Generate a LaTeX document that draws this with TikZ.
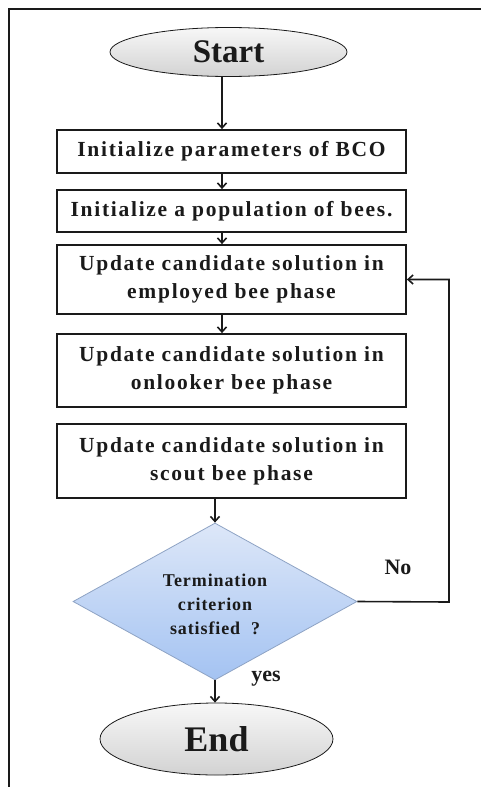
\documentclass[tikz,border=0pt]{standalone}
\usepackage{fontspec}
\setmainfont{Liberation Serif}
\usetikzlibrary{shapes.geometric,arrows.meta}
\definecolor{ink}{HTML}{1A1A1A}
\definecolor{diaedge}{HTML}{8EA3C4}
\definecolor{diatop}{HTML}{DDE7F8}
\definecolor{diabot}{HTML}{A4C3F2}
\tikzset{
  arr/.style={-{Straight Barb[length=5pt,width=9pt]}, line width=1.6pt, draw=ink},
  stepbox/.style={draw=ink, line width=1.8pt, fill=white, rectangle, minimum width=349pt,
    inner sep=0pt, align=center, text=ink,
    font=\fontsize{21.5}{28}\selectfont\bfseries\addfontfeature{LetterSpace=8}},
  term/.style={ellipse, draw=ink, line width=0.8pt, inner sep=0pt, text=ink,
    top color=gray!6, bottom color=gray!35},
  decision/.style={diamond, draw=diaedge, line width=0.8pt, inner sep=0pt,
    top color=diatop, bottom color=diabot},
  dectext/.style={align=center, text=ink, inner sep=0pt,
    font=\fontsize{18}{24}\selectfont\bfseries\addfontfeature{LetterSpace=5}},
  lbl/.style={text=ink, font=\fontsize{22}{24}\selectfont\bfseries}
}
\begin{document}
\begin{tikzpicture}[x=1pt,y=-1pt]
  \useasboundingbox (0,0) rectangle (481,787);
  % page frame (top and left edges)
  \draw[line width=2pt, ink] (8.5,787) -- (8.5,8.5) -- (481,8.5);

  % vertical axis of the upper arrows
  \coordinate (axis) at (222,0);

  \node[term, minimum width=237pt, minimum height=49pt,
        font=\fontsize{33}{35}\selectfont\bfseries] (start) at (228.5,52) {Start};
  \node[stepbox, minimum height=43pt] (b1) at (231.5,151.5) {Initialize parameters of BCO};
  \node[stepbox, minimum height=42pt] (b2) at (231.5,211) {Initialize a population of bees.};
  \node[stepbox, minimum height=69pt] (b3) at (231.5,279.5) {Update candidate solution in\\employed bee phase};
  \node[stepbox, minimum height=73pt] (b4) at (231.5,370.5) {Update candidate solution in\\onlooker bee phase};
  \node[stepbox, minimum height=74pt] (b5) at (231.5,461) {Update candidate solution in\\scout bee phase};
  \node[decision, minimum width=284pt, minimum height=157pt] (dec) at (215,601.5) {};
  \node[dectext] (dectxt) at ([yshift=-3pt]dec.center) {Termination\\criterion\\satisfied~~?};
  \node[term, minimum width=233pt, minimum height=72pt,
        font=\fontsize{36}{38}\selectfont\bfseries] (stop) at (216.5,739) {End};

  \coordinate (loop) at (449,602);

  \draw[arr] (start.south -| axis) -- (b1.north -| axis);
  \draw[arr] (b1.south -| axis) -- (b2.north -| axis);
  \draw[arr] (b2.south -| axis) -- (b3.north -| axis);
  \draw[arr] (b3.south -| axis) -- (b4.north -| axis);
  \draw[arr] (b5.south -| dec) -- (dec.north);
  \draw[arr] (dec.south) -- (dec.south |- stop.north);
  \draw[arr] (dec.east) -- (loop) |- (b3.east);

  \node[lbl] (no) at (398,567) {No};
  \node[lbl] (yes) at (266,679) {yes};
\end{tikzpicture}
\end{document}
